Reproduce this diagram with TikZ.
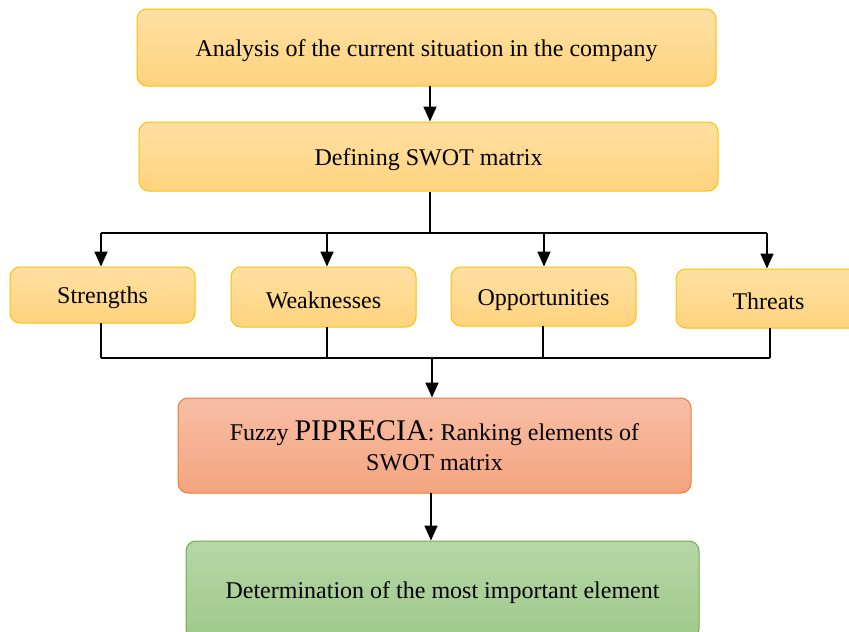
\documentclass[tikz,border=0pt]{standalone}
\usepackage{fontspec}
\setmainfont{Liberation Serif}
\usetikzlibrary{arrows.meta,calc}
\definecolor{ybord}{HTML}{FFC000}
\definecolor{ytop}{HTML}{FFE0A3}
\definecolor{ybot}{HTML}{FFD37E}
\definecolor{rbord}{HTML}{ED7D31}
\definecolor{rtop}{HTML}{F8BEA6}
\definecolor{rbot}{HTML}{F4A47F}
\definecolor{gbord}{HTML}{70AD47}
\definecolor{gtop}{HTML}{B6D6A8}
\definecolor{gbot}{HTML}{9FC98A}
\tikzset{
  box/.style={draw, line width=1pt, rounded corners=10pt, align=center, inner sep=0pt,
    font=\fontsize{24}{30}\selectfont, execute at begin node={\rule{0pt}{23pt}}},
  ybox/.style={box, draw=ybord, top color=ytop, bottom color=ybot},
  rbox/.style={box, draw=rbord, top color=rtop, bottom color=rbot},
  gbox/.style={box, draw=gbord, top color=gtop, bottom color=gbot},
  arr/.style={line width=1.8pt, -{Triangle[width=13pt,length=15pt]}},
  ln/.style={line width=1.2pt},
}
\begin{document}
\begin{tikzpicture}[x=1pt,y=-1pt]
\useasboundingbox (0,0) rectangle (849,632);
\node[ybox, minimum width=579pt, minimum height=77pt] (top) at (426.5,47.5) {Analysis of the current situation in the company};
\node[ybox, minimum width=579pt, minimum height=69pt] (def) at (428.5,156.5) {Defining SWOT matrix};
\node[ybox, minimum width=185pt, minimum height=56pt] (S) at (102.5,295) {Strengths};
\node[ybox, minimum width=185pt, minimum height=60pt] (W) at (323.5,297) {Weaknesses};
\node[ybox, minimum width=185pt, minimum height=59pt] (O) at (543.5,296.5) {Opportunities};
\node[ybox, minimum width=185pt, minimum height=59pt] (T) at (768.5,298.5) {Threats};
\node[rbox, minimum width=513pt, minimum height=95pt] (F) at (434.5,445.5) {Fuzzy {\fontsize{30}{30}\selectfont PIPRECIA}: Ranking elements of\\SWOT matrix};
\node[gbox, minimum width=513pt, minimum height=98pt] (G) at (442.5,590) {Determination of the most important element};

\coordinate (b1) at (430,233);
\coordinate (b2) at (432,358);

\draw[arr] (430,86) coordinate (t1) -- (t1 |- def.north);
\draw[ln] (def.south -| b1) -- (b1);
\draw[ln] (101,233) coordinate (h1) -- (767,233) coordinate (h2);
\draw[arr] (h1) -- (h1 |- S.north);
\draw[arr] (327,233) coordinate (h3) -- (h3 |- W.north);
\draw[arr] (544,233) coordinate (h4) -- (h4 |- O.north);
\draw[arr] (h2) -- (h2 |- T.north);

\draw[ln] (101,323) coordinate (m1) -- (m1 |- b2);
\draw[ln] (327,327) coordinate (m2) -- (m2 |- b2);
\draw[ln] (543,326) coordinate (m3) -- (m3 |- b2);
\draw[ln] (770,328) coordinate (m4) -- (m4 |- b2);
\draw[ln] (m1 |- b2) -- (m4 |- b2);
\draw[arr] (b2) -- (b2 |- F.north);
\draw[arr] (431,493) coordinate (f1) -- (f1 |- G.north);
\end{tikzpicture}
\end{document}
